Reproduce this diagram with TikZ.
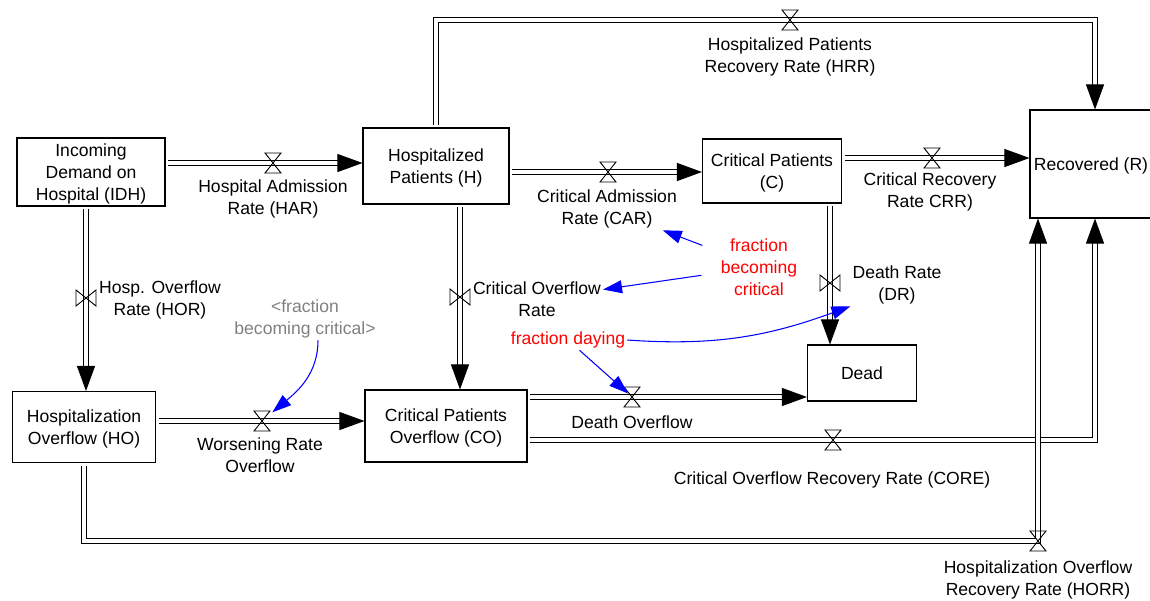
\documentclass[tikz,border=0pt]{standalone}
\usepackage{fontspec}
\setmainfont{Liberation Sans}
\usetikzlibrary{arrows.meta,backgrounds}

\definecolor{linkblue}{RGB}{0,0,255}
\definecolor{auxred}{RGB}{255,0,0}
\definecolor{shadowgray}{RGB}{128,128,128}

\tikzset{
  stock/.style={draw, line width=0.6pt, align=center, inner sep=1pt, text depth=-1pt},
  rate/.style={align=center, inner sep=1pt},
  pipe/.style={double=white, double distance=2pt, line width=0.55pt, shorten <=1.5pt},
  inflow/.style={pipe, -{Triangle[length=0.5cm, width=0.36cm]}},
  valve/.style={inner sep=0pt, minimum width=0.4cm, minimum height=0.46cm,
    path picture={\draw [line width=0.5pt] ([shift={(-0.16cm,0.2cm)}]path picture bounding box.center)
      -- ++(0.32cm,0) -- ++(-0.32cm,-0.4cm) -- ++(0.32cm,0) -- cycle;}},
  vvalve/.style={inner sep=0pt, minimum width=0.46cm, minimum height=0.4cm,
    path picture={\draw [line width=0.5pt] ([shift={(-0.2cm,0.16cm)}]path picture bounding box.center)
      -- ++(0,-0.32cm) -- ++(0.4cm,0.32cm) -- ++(0,-0.32cm) -- cycle;}},
  link/.style={draw=linkblue, line width=0.6pt, -{Triangle[length=0.38cm, width=0.26cm]}}
}

\begin{document}
\begin{tikzpicture}[x=0.02cm, y=-0.02cm, font=\fontsize{10}{12.5}\selectfont]
\useasboundingbox (0,0) rectangle (1150,600);

\node [stock, minimum width=2.96cm, minimum height=1.36cm] (IDH) at (91,172) {Incoming\\Demand on\\Hospital (IDH)};
\node [stock, minimum width=2.92cm, minimum height=1.52cm] (H) at (436,166) {Hospitalized\\Patients (H)};
\node [stock, minimum width=2.78cm, minimum height=1.28cm] (C) at (772,171) {Critical Patients\\(C)};
\node [stock, minimum width=2.44cm, minimum height=2.16cm] (R) at (1091,164) {Recovered (R)};
\node [stock, minimum width=2.86cm, minimum height=1.42cm] (HO) at (84,427) {Hospitalization\\Overflow (HO)};
\node [stock, minimum width=3.24cm, minimum height=1.44cm] (CO) at (446,426) {Critical Patients\\Overflow (CO)};
\node [stock, minimum width=2.18cm, minimum height=1.12cm] (Dead) at (862,373) {Dead};

\node [valve] (vHAR) at (273,163) {};
\node [vvalve] (vHOR) at (86,298) {};
\node [valve] (vHRR) at (790,20) {};
\node [valve] (vCAR) at (608,172) {};
\node [vvalve] (vCOR) at (460,297) {};
\node [valve] (vCRR) at (932,158) {};
\node [vvalve] (vDR) at (830,283) {};
\node [valve] (vWRO) at (262,421) {};
\node [valve] (vDO) at (632,397) {};
\node [valve] (vCORE) at (833,440) {};
\node [valve] (vHORR) at (1038,541) {};

\node [rate] (lHAR) at (273,199) {Hospital Admission\\Rate (HAR)};
\node [rate] (lHOR) at (160,300) {Hosp. Overflow\\Rate (HOR)};
\node [rate] (lHRR) at (790,57) {Hospitalized Patients\\Recovery Rate (HRR)};
\node [rate] (lCAR) at (607,209) {Critical Admission\\Rate (CAR)};
\node [rate] (lCOR) at (537,299) {Critical Overflow\\Rate};
\node [rate] (lCRR) at (930,192) {Critical Recovery\\Rate CRR)};
\node [rate] (lDR) at (897,285) {Death Rate\\(DR)};
\node [rate] (lWRO) at (260,455) {Worsening Rate\\Overflow};
\node [rate] (lDO) at (632,422) {Death Overflow};
\node [rate] (lCORE) at (832,480) {Critical Overflow Recovery Rate (CORE)};
\node [rate] (lHORR) at (1038,580) {Hospitalization Overflow\\Recovery Rate (HORR)};

\node [rate, text=auxred] (fbc) at (759,267) {fraction\\becoming\\critical};
\node [rate, text=auxred] (fd) at (568,340) {fraction daying};
\node [rate, text=shadowgray] (fbcS) at (305,319) {<fraction\\becoming critical>};

% flows sit under the valves
\begin{scope}[on background layer]
  \draw [inflow] (IDH.east |- vHAR) -- (vHAR.center) -- (H.west |- vHAR);
  \draw [inflow] (IDH.south -| vHOR) -- (vHOR.center) -- (HO.north -| vHOR);
  \draw [inflow] (H.north) |- (vHRR.center) -| ([xshift=0.08cm]R.north);
  \draw [inflow] (H.east |- vCAR) -- (vCAR.center) -- (C.west |- vCAR);
  \draw [inflow] (H.south -| vCOR) -- (vCOR.center) -- (CO.north -| vCOR);
  \draw [inflow] (C.east |- vCRR) -- (vCRR.center) -- (R.west |- vCRR);
  \draw [inflow] (C.south -| vDR) -- (vDR.center) -- (Dead.north -| vDR);
  \draw [inflow] (HO.east |- vWRO) -- (vWRO.center) -- (CO.west |- vWRO);
  \draw [inflow] (CO.east |- vDO) -- (vDO.center) -- (Dead.west |- vDO);
  \draw [inflow] (CO.east |- vCORE) -- (vCORE.center) -| ([xshift=0.08cm]R.south);
  \draw [inflow] (HO.south) |- (vHORR.center) -- (vHORR.center |- R.south);
\end{scope}

\draw [link, shorten <=10pt] (fbc) -- (lCAR);
\draw [link, shorten <=10pt] (fbc) -- (lCOR);
\draw [link, shorten >=3pt] (fd) -- (vDO.center);
\draw [link] (fd.east) to [out=-4, in=200] (lDR.south west);
\draw [link] ([xshift=0.26cm]fbcS.south) to [out=-90, in=40] (vWRO);

\end{tikzpicture}
\end{document}
